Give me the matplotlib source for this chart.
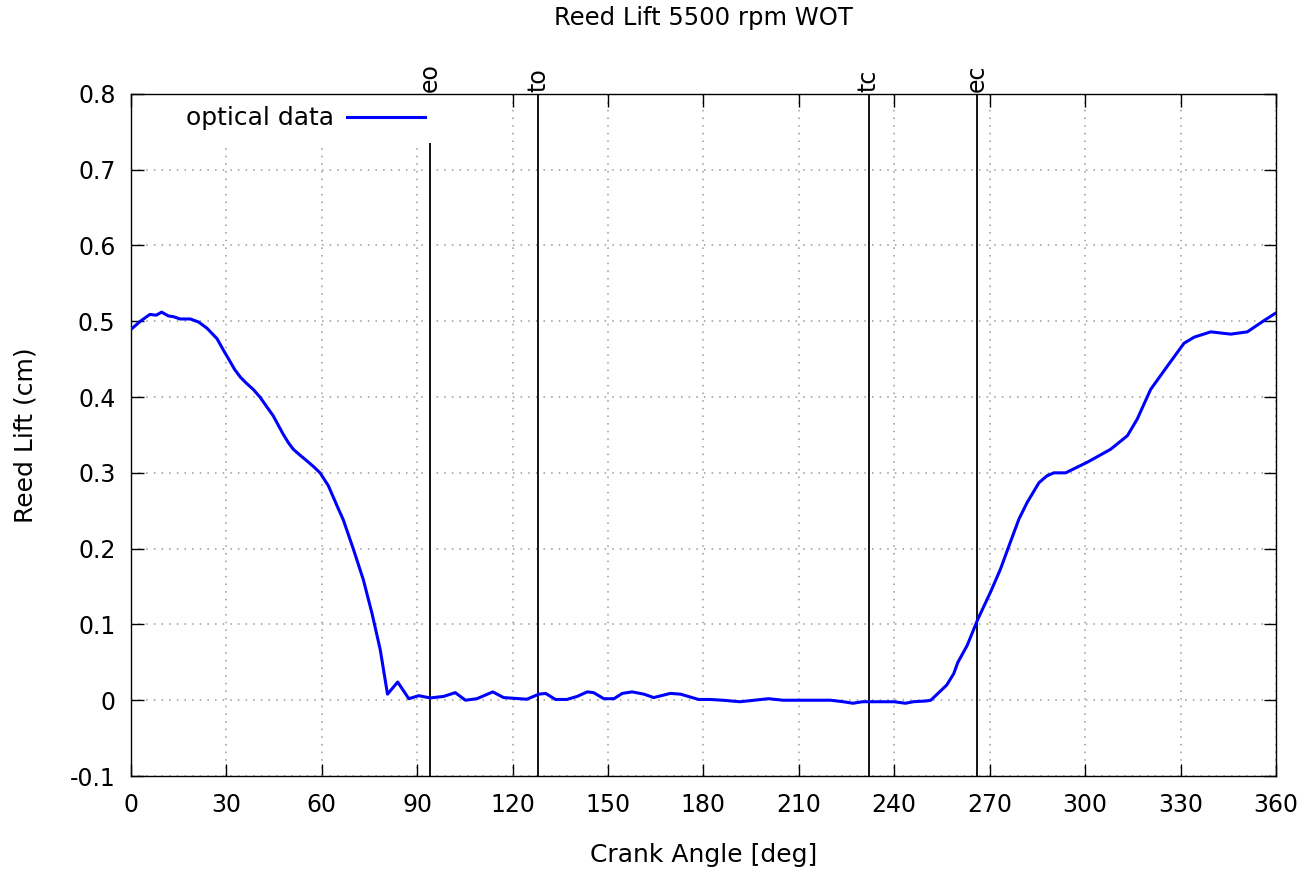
import matplotlib
matplotlib.use('Agg')
import matplotlib.pyplot as plt
import matplotlib.transforms as mtransforms

# Data
crank_angle = [
    0, 3, 6, 8, 9.7, 11.8, 13.4, 15.5, 18.7, 21.3, 23.9, 27.1, 29.1, 30.5,
    32.7, 34.5, 36.4, 38.5, 40.6, 44.8, 47.9, 49.5, 51.1, 53, 55.3, 57.5,
    59.5, 62.1, 65.2, 66.8, 70, 73.1, 75.8, 78.4, 80.7, 83.9, 87.4, 90.5,
    94.1, 98.3, 102, 105.2, 108.8, 113.8, 117.2, 124.5, 128.3, 130.4, 133.5,
    137.1, 140.3, 143.5, 145.5, 148.7, 151.9, 154.5, 157.6, 161.3, 164.4,
    169.6, 172.8, 178.5, 182, 186, 191.5, 196, 200.5, 205, 210, 215, 220,
    224, 227, 230, 235, 240, 243.5, 246, 250, 251.5, 254, 256.5, 258.7, 260,
    262.9, 266.3, 270.3, 273.4, 276.1, 279.2, 281.8, 285.5, 288, 290.2,
    293.9, 300.7, 308, 313.3, 316.4, 320.6, 325.9, 331.1, 334.3, 339.5,
    345.8, 351, 356.3, 360
]
reed_lift = [
    0.489, 0.500, 0.509, 0.508, 0.512, 0.507, 0.506, 0.503, 0.503, 0.499,
    0.491, 0.477, 0.462, 0.452, 0.436, 0.426, 0.418, 0.410, 0.400, 0.375,
    0.351, 0.340, 0.331, 0.324, 0.316, 0.308, 0.300, 0.283, 0.253, 0.238,
    0.199, 0.159, 0.115, 0.067, 0.008, 0.024, 0.002, 0.006, 0.003, 0.005,
    0.010, 0.000, 0.002, 0.011, 0.0035, 0.0013, 0.008, 0.009, 0.001, 0.001,
    0.005, 0.011, 0.010, 0.002, 0.002, 0.009, 0.011, 0.008, 0.0035, 0.009,
    0.008, 0.001, 0.001, 0.000, -0.002, 0.000, 0.002, 0.000, 0.000, 0.000,
    0.000, -0.002, -0.004, -0.002, -0.002, -0.002, -0.004, -0.002, -0.001,
    0.000, 0.010, 0.020, 0.035, 0.050, 0.072, 0.107, 0.143, 0.173, 0.204,
    0.239, 0.261, 0.287, 0.296, 0.300, 0.300, 0.314, 0.331, 0.349, 0.371,
    0.410, 0.441, 0.471, 0.479, 0.486, 0.483, 0.486, 0.501, 0.511
]

# Port events (crank angle, deg)
event_names = ['eo', 'to', 'tc', 'ec']
event_angles = [94, 128, 232, 266]

x_ticks = list(range(0, 361, 30))
y_ticks = [-0.1, 0, 0.1, 0.2, 0.3, 0.4, 0.5, 0.6, 0.7, 0.8]
y_tick_labels = ['-0.1', '0', '0.1', '0.2', '0.3', '0.4', '0.5', '0.6', '0.7', '0.8']

plt.rcParams['font.family'] = 'DejaVu Sans'
FS = 17

fig = plt.figure(figsize=(13.08, 8.69), dpi=100)
ax = fig.add_axes([0.100, 0.107, 0.8755, 0.785])

line, = ax.plot(crank_angle, reed_lift, color='#0000ff', lw=2.2, zorder=3,
                label='optical data')

trans = mtransforms.blended_transform_factory(ax.transData, ax.transAxes)
for name, ang in zip(event_names, event_angles):
    ax.axvline(ang, color='black', lw=1.3, zorder=2)
    ax.text(ang, 1.003, name, transform=trans, rotation=90, ha='center',
            va='bottom', fontsize=FS, clip_on=False, zorder=4)

ax.set_xlim(0, 360)
ax.set_ylim(-0.1, 0.8)
ax.set_xticks(x_ticks)
ax.set_yticks(y_ticks)
ax.set_yticklabels(y_tick_labels)
ax.tick_params(direction='in', length=9, width=1, top=True, right=True,
               labelsize=FS)
ax.tick_params(axis='x', pad=12)
ax.tick_params(axis='y', pad=11)
ax.grid(True, color='#999999', linestyle=(0, (1, 4)), lw=1.1)
for s in ax.spines.values():
    s.set_linewidth(1)

ax.set_xlabel('Crank Angle [deg]', fontsize=18, labelpad=19)
ax.set_ylabel('Reed Lift (cm)', fontsize=18, labelpad=23)
fig.text(0.5 * (0.100 + 0.9755), 1 - 18 / 869, 'Reed Lift 5500 rpm WOT',
         ha='center', va='center', fontsize=17.5)

leg = ax.legend(loc='upper left', bbox_to_anchor=(0.037, 1.0), markerfirst=False,
                handlelength=3.1, fontsize=18, frameon=True, fancybox=False,
                borderpad=0.5, borderaxespad=0.0, handletextpad=0.55)
leg.get_frame().set_facecolor('white')
leg.get_frame().set_edgecolor('none')
leg.get_frame().set_alpha(1)
leg.set_zorder(2.2)

fig.savefig('out.png', dpi=100)
